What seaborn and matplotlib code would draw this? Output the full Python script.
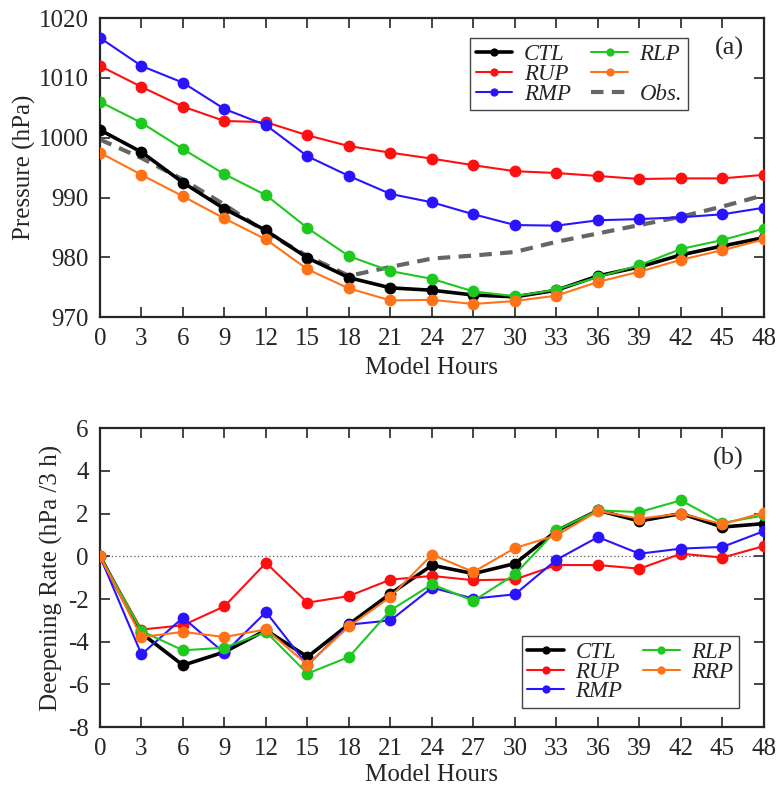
import numpy as np
import pandas as pd
import matplotlib
matplotlib.use("Agg")
import matplotlib.pyplot as plt
import seaborn as sns

# Model hours (3-hourly)
hours = [0, 3, 6, 9, 12, 15, 18, 21, 24, 27, 30, 33, 36, 39, 42, 45, 48]

# (a) minimum sea level pressure (hPa)
p_ctl = [1001.3, 997.6, 992.5, 988.1, 984.5, 979.9, 976.6, 974.9, 974.5, 973.7,
         973.4, 974.5, 976.9, 978.4, 980.4, 981.9, 983.3]
p_rup = [1012.0, 1008.5, 1005.2, 1002.8, 1002.6, 1000.4, 998.6, 997.5, 996.5, 995.4,
         994.4, 994.1, 993.6, 993.1, 993.2, 993.2, 993.8]
p_rmp = [1016.7, 1012.0, 1009.2, 1004.8, 1002.1, 996.9, 993.6, 990.6, 989.2, 987.2,
         985.4, 985.3, 986.2, 986.4, 986.7, 987.2, 988.3]
p_rlp = [1006.0, 1002.5, 998.1, 993.9, 990.4, 984.9, 980.2, 977.7, 976.4, 974.3,
         973.5, 974.6, 976.7, 978.7, 981.4, 982.9, 984.8]
p_rrp = [997.5, 993.8, 990.2, 986.5, 983.0, 978.0, 974.8, 972.8, 972.9, 972.2,
         972.7, 973.6, 975.9, 977.6, 979.6, 981.2, 983.0]
p_obs = [999.7, 996.6, 993.0, 988.8, 984.2, 980.2, 976.9, 978.4, 979.8, 980.3,
         980.9, 982.6, 984.0, 985.4, 986.8, 988.5, 990.4]

# (b) deepening rate (hPa / 3 h)
d_ctl = [0.0, -3.6, -5.1, -4.48, -3.46, -4.71, -3.18, -1.75, -0.42, -0.81,
         -0.34, 1.19, 2.15, 1.65, 2.0, 1.37, 1.53]
d_rup = [0.0, -3.43, -3.23, -2.34, -0.31, -2.17, -1.86, -1.09, -0.92, -1.12,
         -1.08, -0.41, -0.41, -0.58, 0.12, -0.06, 0.48]
d_rmp = [0.0, -4.59, -2.87, -4.53, -2.61, -5.1, -3.2, -3.0, -1.47, -1.98,
         -1.78, -0.16, 0.9, 0.12, 0.36, 0.44, 1.18]
d_rlp = [0.0, -3.5, -4.4, -4.28, -3.54, -5.49, -4.71, -2.53, -1.31, -2.09,
         -0.84, 1.22, 2.15, 2.07, 2.62, 1.56, 1.92]
d_rrp = [0.0, -3.78, -3.54, -3.78, -3.42, -5.07, -3.28, -1.9, 0.08, -0.73,
         0.39, 0.98, 2.12, 1.76, 2.0, 1.5, 2.05]

names = ["CTL", "RUP", "RMP", "RLP", "RRP"]
colors = {"CTL": "black", "RUP": "#ff0f0f", "RMP": "#2a14ff",
          "RLP": "#1ec81e", "RRP": "#ff7218"}

pres = pd.DataFrame({"hour": hours, "CTL": p_ctl, "RUP": p_rup, "RMP": p_rmp,
                     "RLP": p_rlp, "RRP": p_rrp, "Obs.": p_obs})
rate = pd.DataFrame({"hour": hours, "CTL": d_ctl, "RUP": d_rup, "RMP": d_rmp,
                     "RLP": d_rlp, "RRP": d_rrp})

sns.set_style("ticks")
plt.rcParams["font.family"] = ["Liberation Serif", "DejaVu Serif"]
plt.rcParams["axes.unicode_minus"] = False

fig = plt.figure(figsize=(7.78, 7.87), dpi=100)
ax1 = fig.add_axes([0.1285, 0.597, 0.8535, 0.380])
ax2 = fig.add_axes([0.1285, 0.076, 0.8535, 0.380])


def draw(ax, df, name, z):
    lw = 2.6 if name == "CTL" else 1.5
    sns.lineplot(data=df, x="hour", y=name, ax=ax, color=colors[name],
                 marker="o", markersize=8.5, markeredgewidth=0, linewidth=lw,
                 zorder=z, label=name)


# panel (a)
sns.lineplot(data=pres, x="hour", y="Obs.", ax=ax1, color="#666666",
             linewidth=3, linestyle=(0, (3, 2)), zorder=2, label="Obs.")
for i, n in enumerate(names):
    draw(ax1, pres, n, 3 + i)

# panel (b)
ax2.axhline(0, color="#555555", linestyle=(0, (1, 2)), linewidth=0.9, zorder=1)
for i, n in enumerate(names):
    draw(ax2, rate, n, 3 + i)

for ax in (ax1, ax2):
    ax.set_xlim(0, 48)
    ax.set_xticks(hours)
    ax.tick_params(direction="in", length=7, width=1.2, labelsize=18,
                   top=True, right=True, pad=8)
    for s in ax.spines.values():
        s.set_linewidth(1.6)

ax1.set_xlabel("Model Hours", fontsize=18, labelpad=5)
ax2.set_xlabel("Model Hours", fontsize=18, labelpad=3)

ax1.set_ylim(970, 1020)
ax1.set_yticks([970, 980, 990, 1000, 1010, 1020])
ax1.set_ylabel("Pressure (hPa)", fontsize=18, labelpad=2)
ax2.set_ylim(-8, 6)
ax2.set_yticks([-8, -6, -4, -2, 0, 2, 4, 6])
ax2.set_ylabel("Deepening Rate (hPa /3 h)", fontsize=18, labelpad=4)

ax1.text(0.97, 0.90, "(a)", transform=ax1.transAxes, fontsize=19,
         ha="right", va="center")
ax2.text(0.97, 0.90, "(b)", transform=ax2.transAxes, fontsize=19,
         ha="right", va="center")

leg_kw = dict(ncol=2, fancybox=False, edgecolor="#444444", framealpha=1,
              prop={"style": "italic", "size": 16.5}, handlelength=1.6,
              labelspacing=-0.05, columnspacing=0.9, borderpad=0.25,
              handletextpad=0.5, markerscale=0.7, borderaxespad=0)

# legends
h1, l1 = ax1.get_legend_handles_labels()
hd = dict(zip(l1, h1))
order = ["CTL", "RUP", "RMP", "RLP", "RRP", "Obs."]
labs = ["CTL", "RUP", "RMP", "RLP", "", "Obs."]
ax1.legend([hd[k] for k in order], labs, loc="upper left",
           bbox_to_anchor=(0.557, 0.933), **leg_kw)

h2, l2 = ax2.get_legend_handles_labels()
hd2 = dict(zip(l2, h2))
ax2.legend([hd2[k] for k in names], names, loc="lower left",
           bbox_to_anchor=(0.635, 0.0635), **leg_kw)

fig.savefig("out.png", dpi=100)
